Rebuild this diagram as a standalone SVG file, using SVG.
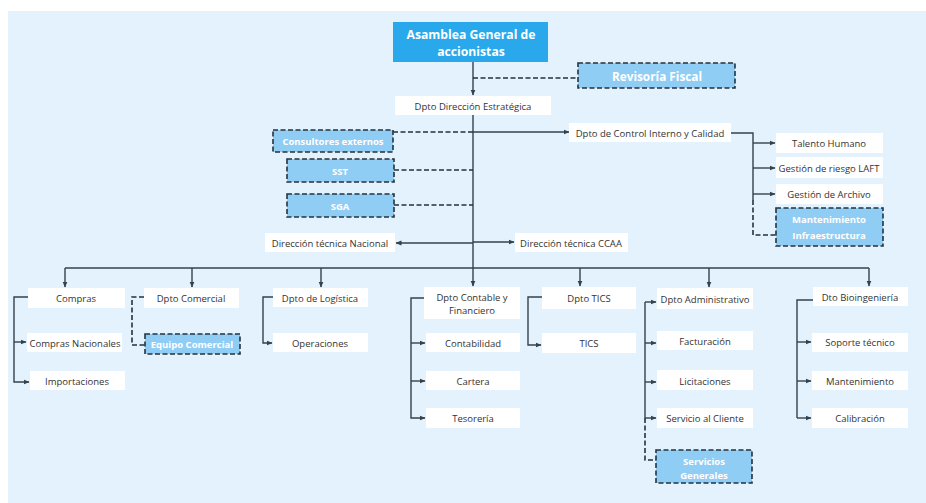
<svg xmlns="http://www.w3.org/2000/svg" width="926" height="503" viewBox="0 0 926 503">
<defs>
<marker id="ah" markerWidth="6" markerHeight="6" refX="5.5" refY="3" orient="auto" markerUnits="userSpaceOnUse"><path d="M0,0.5 L6,3 L0,5.5 z" fill="#34424d"/></marker>
<style>
.bg{fill:#e3f2fd}
.w{fill:#ffffff}
.d{fill:#90cdf5;stroke:#24323d;stroke-width:1.6;stroke-dasharray:5,2.5}
.top{fill:#29a9eb}
.t{font-family:"Open Sans","Liberation Sans",sans-serif;font-size:9.5px;fill:#333;text-anchor:middle;dominant-baseline:central}
.tb{font-family:"Open Sans","Liberation Sans",sans-serif;font-size:9.5px;font-weight:bold;fill:#ffffff;text-anchor:middle;dominant-baseline:central}
.tt{font-family:"Open Sans","Liberation Sans",sans-serif;font-size:12.2px;font-weight:bold;fill:#ffffff;text-anchor:middle;dominant-baseline:central}
.l{fill:none;stroke:#34424d;stroke-width:1.4}
.a{fill:none;stroke:#34424d;stroke-width:1.4;marker-end:url(#ah)}
.ld{fill:none;stroke:#24323d;stroke-width:1.6;stroke-dasharray:5,2.5}
</style>
</defs>
<rect class="bg" x="8" y="11" width="918" height="492"/>
<g id="connectors">
<path class="a" d="M473,62 V95"/>
<path class="ld" d="M473,78 H578"/>
<path class="l" d="M473,115 V268"/>
<path class="ld" d="M393,132 H473"/>
<path class="a" d="M473,132 H569"/>
<path class="ld" d="M394,170 H473"/>
<path class="ld" d="M394,205 H473"/>
<path class="a" d="M473,243 H396"/>
<path class="a" d="M473,242 H514"/>
<path class="l" d="M65,268 H869"/>
<path class="a" d="M65,268 V287"/>
<path class="a" d="M192,268 V287"/>
<path class="a" d="M321,268 V287"/>
<path class="a" d="M473,268 V286"/>
<path class="a" d="M580,268 V286"/>
<path class="a" d="M709,268 V287"/>
<path class="a" d="M869,268 V286"/>
<path class="l" d="M731,133 H753 V200"/>
<path class="a" d="M753,143 H775"/>
<path class="a" d="M753,168 H775"/>
<path class="a" d="M753,194 H775"/>
<path class="ld" d="M753,200 V235 H776"/>
<path class="l" d="M28,297 H14 V342"/>
<path class="a" d="M14,342 H26"/>
<path class="a" d="M14,342 V382 H29"/>
<path class="ld" d="M144,297 H132 V345 H145"/>
<path class="a" d="M273,297 H263 V343 H272"/>
<path class="l" d="M424,298 H411 V343"/>
<path class="a" d="M411,343 H425"/>
<path class="a" d="M411,381 H425"/>
<path class="a" d="M411,343 V418 H425"/>
<path class="a" d="M542,297 H528 V345 H541"/>
<path class="a" d="M645,302 H656"/>
<path class="l" d="M645,302 V418"/>
<path class="a" d="M645,343 H656"/>
<path class="a" d="M645,382 H656"/>
<path class="a" d="M645,418 H656"/>
<path class="ld" d="M645,418 V460 H656"/>
<path class="l" d="M813,300 H797 V418"/>
<path class="a" d="M797,342 H811"/>
<path class="a" d="M797,381 H811"/>
<path class="a" d="M797,418 H811"/>
</g>
<g id="asamblea"><rect class="top" x="393" y="22" width="155" height="40"/><text class="tt" x="471" y="34">Asamblea General de</text><text class="tt" x="471" y="51">accionistas</text></g>
<g id="revisoria"><rect class="d" x="578" y="63" width="157" height="25"/><text class="tb" x="657" y="76" style="font-size:11.8px">Revisoría Fiscal</text></g>
<g id="direccion"><rect class="w" x="395" y="96" width="156" height="19"/><text class="t" x="473" y="106">Dpto Dirección Estratégica</text></g>
<g id="consultores"><rect class="d" x="273" y="130" width="120" height="22"/><text class="tb" x="333" y="141">Consultores externos</text></g>
<g id="control"><rect class="w" x="569" y="123" width="162" height="19"/><text class="t" x="650" y="133">Dpto de Control Interno y Calidad</text></g>
<g id="sst"><rect class="d" x="287" y="159" width="107" height="23"/><text class="tb" x="340" y="171">SST</text></g>
<g id="sga"><rect class="d" x="287" y="194" width="107" height="23"/><text class="tb" x="340" y="206">SGA</text></g>
<g id="dtn"><rect class="w" x="265" y="233" width="130" height="19"/><text class="t" x="330" y="243">Dirección técnica Nacional</text></g>
<g id="dtccaa"><rect class="w" x="515" y="233" width="113" height="19"/><text class="t" x="571" y="243">Dirección técnica CCAA</text></g>
<g id="talento"><rect class="w" x="776" y="133" width="107" height="20"/><text class="t" x="829" y="143">Talento Humano</text></g>
<g id="laft"><rect class="w" x="776" y="157" width="107" height="21"/><text class="t" x="829" y="168">Gestión de riesgo LAFT</text></g>
<g id="archivo"><rect class="w" x="776" y="184" width="107" height="20"/><text class="t" x="829" y="194">Gestión de Archivo</text></g>
<g id="mantinfra"><rect class="d" x="776" y="208" width="107" height="38"/><text class="tb" x="829" y="219">Mantenimiento</text><text class="tb" x="829" y="235">Infraestructura</text></g>
<g id="compras"><rect class="w" x="28" y="288" width="97" height="20"/><text class="t" x="76" y="298">Compras</text></g>
<g id="comprasnac"><rect class="w" x="27" y="333" width="95" height="19"/><text class="t" x="75" y="343">Compras Nacionales</text></g>
<g id="importaciones"><rect class="w" x="30" y="371" width="95" height="19"/><text class="t" x="77" y="381">Importaciones</text></g>
<g id="comercial"><rect class="w" x="144" y="288" width="95" height="20"/><text class="t" x="191" y="298">Dpto Comercial</text></g>
<g id="equipo"><rect class="d" x="145" y="334" width="95" height="20"/><text class="tb" x="192" y="344">Equipo Comercial</text></g>
<g id="logistica"><rect class="w" x="273" y="288" width="95" height="19"/><text class="t" x="320" y="298">Dpto de Logística</text></g>
<g id="operaciones"><rect class="w" x="273" y="333" width="95" height="19"/><text class="t" x="320" y="343">Operaciones</text></g>
<g id="contable"><rect class="w" x="424" y="287" width="96" height="32"/><text class="t" x="472" y="297">Dpto Contable y</text><text class="t" x="472" y="310">Financiero</text></g>
<g id="contabilidad"><rect class="w" x="426" y="333" width="94" height="19"/><text class="t" x="473" y="343">Contabilidad</text></g>
<g id="cartera"><rect class="w" x="426" y="371" width="94" height="19"/><text class="t" x="473" y="381">Cartera</text></g>
<g id="tesoreria"><rect class="w" x="426" y="408" width="94" height="20"/><text class="t" x="473" y="418">Tesorería</text></g>
<g id="dptotics"><rect class="w" x="542" y="287" width="94" height="22"/><text class="t" x="589" y="298">Dpto TICS</text></g>
<g id="tics"><rect class="w" x="542" y="333" width="94" height="20"/><text class="t" x="589" y="343">TICS</text></g>
<g id="admin"><rect class="w" x="657" y="288" width="96" height="21"/><text class="t" x="705" y="299">Dpto Administrativo</text></g>
<g id="facturacion"><rect class="w" x="657" y="331" width="96" height="19"/><text class="t" x="705" y="341">Facturación</text></g>
<g id="licitaciones"><rect class="w" x="657" y="370" width="96" height="20"/><text class="t" x="705" y="381">Licitaciones</text></g>
<g id="servicio"><rect class="w" x="657" y="408" width="96" height="20"/><text class="t" x="705" y="418">Servicio al Cliente</text></g>
<g id="servgen"><rect class="d" x="656" y="450" width="96" height="33" /><text class="tb" x="704" y="461">Servicios</text><text class="tb" x="704" y="475">Generales</text></g>
<g id="bio"><rect class="w" x="813" y="287" width="95" height="19"/><text class="t" x="860" y="297">Dto Bioingeniería</text></g>
<g id="soporte"><rect class="w" x="812" y="333" width="96" height="19"/><text class="t" x="860" y="342">Soporte técnico</text></g>
<g id="mantenimiento"><rect class="w" x="812" y="371" width="96" height="19"/><text class="t" x="860" y="381">Mantenimiento</text></g>
<g id="calibracion"><rect class="w" x="812" y="408" width="96" height="20"/><text class="t" x="860" y="418">Calibración</text></g>
</svg>
